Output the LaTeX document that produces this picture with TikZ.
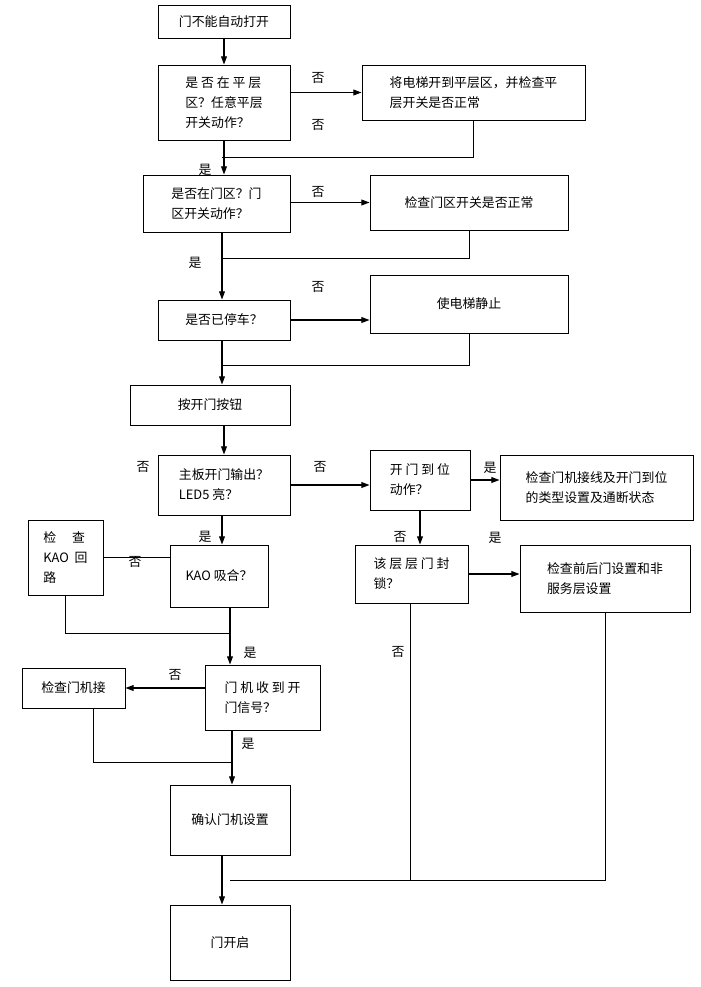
\documentclass[tikz,border=0pt]{standalone}
\usepackage{fontspec}
\setmainfont{Noto Sans CJK SC}
\usetikzlibrary{arrows.meta}
\tikzset{
	flowbox/.style = {draw=black, line width=0.8pt, align=left, inner sep=3pt, font=\fontsize{11}{17}\selectfont},
	arr/.style = {-{Triangle[length=7pt,width=5pt]}, line width=0.9pt},
	ln/.style = {line width=0.8pt},
	lab/.style = {font=\fontsize{11}{13}\selectfont, inner sep=1pt},
}
% box from pixel corners (x1,y1) to (x2,y2)
\newcommand{\flowstep}[6]{%
	\node[flowbox, minimum width={(#4-#2)*0.03cm}, minimum height={(#5-#3)*0.03cm}] (#1) at ({(#2+#4)/2},{(#3+#5)/2}) {#6};}

\begin{document}
\begin{tikzpicture}[x=0.03cm, y=-0.03cm]
	\useasboundingbox (0,0) rectangle (700,987);
	\flowstep{s1}{158}{5}{290}{38}{门不能自动打开}
	\flowstep{s2}{158}{65}{290}{140}{是\ 否\ 在\ 平\ 层\\区？任意平层\\开关动作？}
	\flowstep{s3}{362}{65}{585}{120}{将电梯开到平层区，并检查平\\层开关是否正常}
	\flowstep{s4}{143}{175}{290}{232}{是否在门区？门\\区开关动作？}
	\flowstep{s5}{370}{175}{568}{230}{检查门区开关是否正常}
	\flowstep{s6}{158}{300}{290}{340}{是否已停车？}
	\flowstep{s7}{370}{275}{568}{333}{使电梯静止}
	\flowstep{s8}{130}{385}{290}{425}{按开门按钮}
	\flowstep{s9}{158}{455}{290}{515}{主板开门输出？\\LED5 亮？}
	\flowstep{s10}{370}{450}{470}{510}{开\ 门\ 到\ 位\\动作？}
	\flowstep{s11}{500}{455}{693}{520}{检查门机接线及开门到位\\的类型设置及通断状态}
	\flowstep{s12}{355}{545}{468}{603}{该\ 层\ 层\ 门\ 封\\锁？}
	\flowstep{s13}{520}{545}{690}{612}{检查前后门设置和非\\服务层设置}
	\flowstep{s14}{170}{545}{268}{607}{KAO 吸合？}
	\flowstep{s15}{28}{520}{103}{595}{检\quad\ 查\\KAO\ \ 回\\路}
	\flowstep{s16}{205}{665}{320}{730}{门\ 机\ 收\ 到\ 开\\门信号？}
	\flowstep{s17}{22}{668}{125}{708}{检查门机接}
	\flowstep{s18}{170}{785}{290}{855}{确认门机设置}
	\flowstep{s19}{170}{905}{290}{980}{门开启}

	\coordinate (j1) at (222,157);
	\coordinate (j2) at (222,258);
	\coordinate (j3) at (222,365);
	\coordinate (j4) at (230,633);
	\coordinate (j5) at (232,762);
	\coordinate (j6) at (230,880);
	\coordinate (j7) at (410,880);

	\draw[arr] (s1.south) -- (s2.north);
	\draw[arr] (s2.east |- s3.west) -- (s3.west);
	\draw[ln] (s3.south) |- (j1);
	\draw[arr] (s2.south) -- (s2.south |- s4.north);
	\draw[arr] (s4.east |- s5.west) -- (s5.west);
	\draw[ln] (s5.south) |- (j2);
	\draw[arr] (s4.south -| j2) -- (s6.north -| j2);
	\draw[arr] (s6.east) -- (s7.west |- s6.east);
	\draw[ln] (s7.south) |- (j3);
	\draw[arr] (s6.south -| j3) -- (s8.north -| j3);
	\draw[arr] (s8.south -| s9.north) -- (s9.north);
	\draw[arr] (s9.east) -- (s10.west |- s9.east);
	\draw[arr] (s10.east) -- (s11.west |- s10.east);
	\draw[arr] (s10.south) -- (s12.north -| s10.south);
	\draw[arr] (s12.east) -- (s13.west |- s12.east);
	\draw[arr] (s9.south -| j1) -- (s14.north -| j1);
	\draw[ln] (s14.west |- s15.east) -- (s15.east);
	\draw[ln] (s15.south) |- (j4);
	\draw[arr] (s14.south -| j4) -- (s16.north -| j4);
	\draw[arr] (s16.west |- s17.east) -- (s17.east);
	\draw[ln] (s17.south -| 93,0) |- (j5);
	\draw[arr] (s16.south -| j5) -- (s18.north -| j5);
	\draw[ln] (s12.south -| j7) -- (j7);
	\draw[ln] (s13.south) |- (j6);
	\draw[arr] (s18.south -| 222,0) -- (s19.north -| 222,0);

	\node[lab] (n1) at (318,78) {否};
	\node[lab] (n2) at (318,125) {否};
	\node[lab] (n3) at (205,170) {是};
	\node[lab] (n4) at (318,192) {否};
	\node[lab] (n5) at (195,263) {是};
	\node[lab] (n6) at (318,287) {否};
	\node[lab] (n7) at (143,467) {否};
	\node[lab] (n8) at (320,467) {否};
	\node[lab] (n9) at (490,468) {是};
	\node[lab] (n10) at (400,537) {否};
	\node[lab] (n11) at (495,538) {是};
	\node[lab] (n12) at (205,537) {是};
	\node[lab] (n13) at (135,562) {否};
	\node[lab] (n14) at (250,653) {是};
	\node[lab] (n15) at (398,652) {否};
	\node[lab] (n16) at (175,675) {否};
	\node[lab] (n17) at (248,744) {是};
\end{tikzpicture}
\end{document}
